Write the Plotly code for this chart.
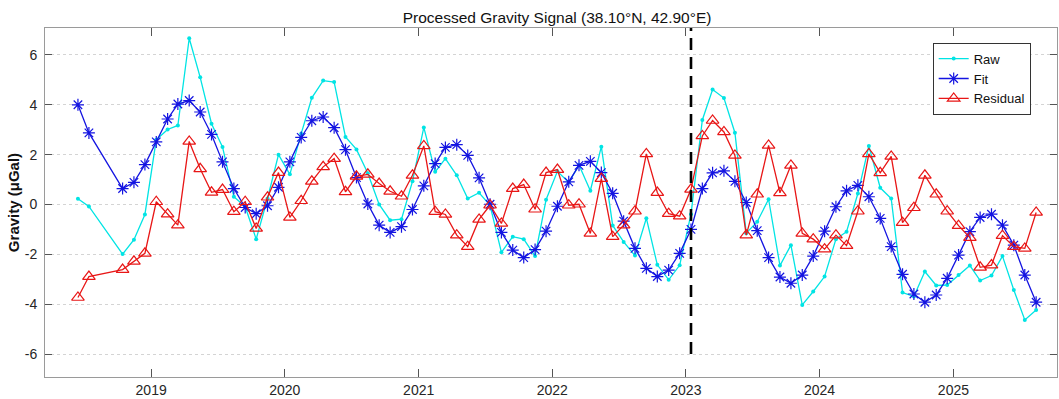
import plotly.graph_objects as go

# Monthly solution epochs (year-month); plotted at mid-month
months = (["2018-06", "2018-07", "2018-10", "2018-11", "2018-12"]
          + [f"{y}-{m:02d}" for y in range(2019, 2025) for m in range(1, 13)]
          + [f"2025-{m:02d}" for m in range(1, 9)])

raw = [0.23, -0.08, -1.99, -1.41, -0.40,
       2.60, 3.01, 3.17, 6.67, 5.10, 3.24, 2.31, 0.31, -0.09, -1.39, 0.24, 2.00,
       1.21, 2.84, 4.28, 4.97, 4.91, 2.71, 2.21, 1.25, 0.00, -0.63, -0.59, 0.93,
       3.09, 1.31, 1.84, 1.17, 0.24, 0.47, -0.03, -1.92, -1.29, -1.39, -2.07, 0.19,
       1.33, 0.88, 1.58, 0.55, 2.32, -0.84, -1.50, -2.05, -0.55, -2.42, -3.02, -2.44,
       -0.39, 3.39, 4.61, 4.27, 2.88, -1.15, -0.69, 0.21, -2.45, -1.63, -4.03, -3.49,
       -2.89, -1.39, -1.09, 0.44, 2.35, 0.67, 0.24, -3.53, -3.69, -2.69, -3.25, -3.23,
       -2.83, -2.45, -3.05, -2.85, -2.07, -3.43, -4.63, -4.23]

fit = [4.00, 2.87, 0.64, 0.89, 1.60,
       2.51, 3.43, 4.03, 4.17, 3.71, 2.81, 1.71, 0.64, -0.12, -0.37, -0.05, 0.69,
       1.71, 2.69, 3.36, 3.51, 3.08, 2.20, 1.08, 0.02, -0.83, -1.12, -0.89, -0.20,
       0.75, 1.64, 2.29, 2.40, 1.97, 1.07, 0.01, -1.12, -1.83, -2.13, -1.81, -1.07,
       -0.07, 0.91, 1.57, 1.73, 1.28, 0.45, -0.67, -1.76, -2.56, -2.89, -2.63, -1.96,
       -1.00, 0.64, 1.27, 1.35, 0.93, 0.08, -1.05, -2.13, -2.91, -3.16, -2.83, -2.07,
       -1.07, -0.09, 0.55, 0.77, 0.31, -0.56, -1.69, -2.80, -3.59, -3.92, -3.63, -2.96,
       -2.03, -1.09, -0.52, -0.39, -0.83, -1.63, -2.83, -3.92]

residual = [-3.73, -2.89, -2.61, -2.28, -1.96,
            0.11, -0.39, -0.83, 2.53, 1.43, 0.49, 0.60, -0.29, 0.11, -0.96, 0.29, 1.28,
            -0.52, 0.15, 0.93, 1.51, 1.84, 0.51, 1.13, 1.21, 0.84, 0.53, 0.33, 1.17,
            2.35, -0.29, -0.40, -1.23, -1.69, -0.60, -0.03, -0.76, 0.64, 0.80, -0.19, 1.28,
            1.40, -0.03, 0.01, -1.16, 1.04, -1.29, -0.83, -0.27, 2.03, 0.48, -0.37, -0.47,
            0.61, 2.75, 3.37, 2.91, 1.97, -1.23, 0.41, 2.37, 0.47, 1.57, -1.16, -1.39,
            -1.79, -1.23, -1.65, -0.27, 2.03, 1.27, 1.93, -0.73, -0.13, 1.17, 0.41, -0.27,
            -0.85, -1.33, -2.52, -2.43, -1.25, -1.69, -1.76, -0.32]

event_date = "2023-01-15"
y_ticks = [-6, -4, -2, 0, 2, 4, 6]

dates = [m + "-15" for m in months]

FONT = "Liberation Sans, Arial, Helvetica, sans-serif"
CYAN = "rgb(0,228,228)"
BLUE = "rgb(20,20,225)"
RED = "rgb(232,22,22)"

fig = go.Figure()
fig.add_trace(go.Scatter(
    x=dates, y=raw, name="Raw", mode="lines+markers",
    line=dict(color=CYAN, width=1.3),
    marker=dict(symbol="circle", size=4, color=CYAN)))
fig.add_trace(go.Scatter(
    x=dates, y=fit, name="Fit", mode="lines+markers",
    line=dict(color=BLUE, width=1.3),
    marker=dict(symbol="asterisk-open", size=10, color=BLUE,
                line=dict(color=BLUE, width=1.2))))
fig.add_trace(go.Scatter(
    x=dates, y=residual, name="Residual", mode="lines+markers",
    line=dict(color=RED, width=1.3),
    marker=dict(symbol="triangle-up-open", size=11, color=RED,
                line=dict(color=RED, width=1.2))))

# Event marker
fig.add_shape(type="line", xref="x", yref="y",
              x0=event_date, x1=event_date, y0=-6, y1=7.1,
              line=dict(color="black", width=2.6, dash="12px,7px"))

axis_common = dict(showline=True, linecolor="#9a9a9a", linewidth=1,
                   mirror="ticks", ticks="inside", tickcolor="#555555",
                   tickfont=dict(family=FONT, size=14, color="#262626"),
                   zeroline=False)

fig.update_xaxes(type="date", range=["2018-03-17", "2025-10-11"],
                 tick0="2019-01-01", dtick="M12", tickformat="%Y",
                 ticklen=8, showgrid=False, **axis_common)
fig.update_yaxes(range=[-6.92, 7.08], tickvals=y_ticks,
                 ticktext=[str(v) for v in y_ticks],
                 ticklen=7, showgrid=True, gridcolor="#d4d4d4",
                 griddash="dot", gridwidth=1, ticklabelstandoff=4,
                 **axis_common)

fig.update_layout(
    width=1059, height=399,
    margin=dict(l=45, r=2, t=28, b=22),
    paper_bgcolor="white", plot_bgcolor="white",
    font=dict(family=FONT, color="#262626"),
    title=dict(text="Processed Gravity Signal (38.10°N, 42.90°E)",
               x=0.506, xref="paper", xanchor="center",
               y=0.957, yref="container", yanchor="middle",
               font=dict(family=FONT, size=15.5, color="#111111")),
    legend=dict(x=0.974, y=0.958, xanchor="right", yanchor="top",
                bgcolor="white", bordercolor="#333333", borderwidth=1,
                font=dict(family=FONT, size=13, color="#111111"),
                tracegroupgap=0),
    showlegend=True,
    annotations=[dict(text="<b>Gravity (μGal)</b>", textangle=-90,
                      xref="paper", yref="paper", x=-0.031, y=0.5,
                      xanchor="center", yanchor="middle", showarrow=False,
                      font=dict(family=FONT, size=15, color="#111111"))],
)

fig.write_html("out.html")
